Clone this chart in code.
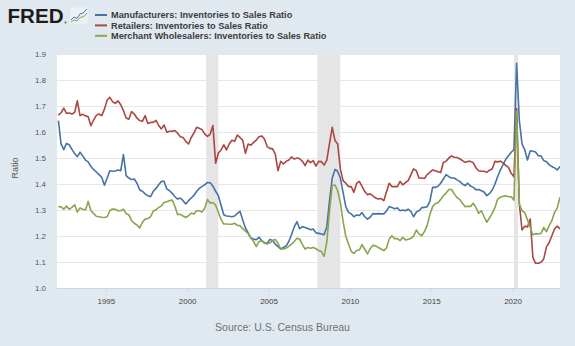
<!DOCTYPE html>
<html>
<head>
<meta charset="utf-8">
<script src="https://cdn.jsdelivr.net/npm/d3@7"></script>
<style>
  body { margin: 0; background: #e1e9f0; }
  svg { display: block; font-family: "Liberation Sans", Arial, sans-serif; }
</style>
</head>
<body>
<div id="chart"></div>
<script>
// bi-monthly readings, Feb 1992 .. Dec 2022
var firstMonth = new Date(1992, 1, 1)
var stepMonths = 2

var seriesNames = [
  'Manufacturers: Inventories to Sales Ratio',
  'Retailers: Inventories to Sales Ratio',
  'Merchant Wholesalers: Inventories to Sales Ratio'
]
var seriesColors = ['#4572a7', '#aa4643', '#89a54e']

var manufacturers = [
  1.644, 1.554, 1.532, 1.556, 1.551, 1.533, 1.517, 1.505, 1.522, 1.508, 1.492, 1.485,
  1.467, 1.456, 1.446, 1.436, 1.426, 1.395, 1.423, 1.451, 1.449, 1.45, 1.454, 1.451,
  1.513, 1.432, 1.423, 1.417, 1.419, 1.403, 1.377, 1.372, 1.362, 1.355, 1.351, 1.372,
  1.383, 1.397, 1.41, 1.41, 1.381, 1.374, 1.364, 1.351, 1.342, 1.346, 1.336, 1.323,
  1.336, 1.346, 1.356, 1.372, 1.383, 1.391, 1.397, 1.406, 1.405, 1.392, 1.372, 1.355,
  1.317, 1.282, 1.277, 1.276, 1.274, 1.277, 1.287, 1.295, 1.262, 1.231, 1.212, 1.192,
  1.188, 1.186, 1.195, 1.182, 1.174, 1.172, 1.187, 1.183, 1.169, 1.159, 1.15, 1.156,
  1.162, 1.179, 1.206, 1.235, 1.255, 1.228, 1.236, 1.233, 1.229, 1.224, 1.227, 1.212,
  1.21, 1.208, 1.205, 1.236, 1.336, 1.423, 1.456, 1.449, 1.423, 1.368, 1.313, 1.291,
  1.285, 1.274, 1.281, 1.279, 1.29, 1.274, 1.265, 1.272, 1.286, 1.285, 1.286, 1.285,
  1.285, 1.296, 1.313, 1.31, 1.305, 1.308, 1.297, 1.3, 1.297, 1.303, 1.295, 1.274,
  1.292, 1.297, 1.309, 1.31, 1.313, 1.333, 1.387, 1.387, 1.391, 1.403, 1.419, 1.436,
  1.428, 1.423, 1.423, 1.416, 1.41, 1.4, 1.394, 1.403, 1.392, 1.387, 1.378, 1.379,
  1.374, 1.369, 1.355, 1.363, 1.377, 1.399, 1.429, 1.453, 1.474, 1.495, 1.509, 1.522,
  1.532, 1.864, 1.644, 1.554, 1.531, 1.492, 1.528, 1.526, 1.523, 1.509, 1.508, 1.49,
  1.486, 1.474, 1.467, 1.462, 1.454, 1.467
]

var retailers = [
  1.665, 1.674, 1.692, 1.672, 1.673, 1.669, 1.676, 1.72, 1.663, 1.668, 1.662, 1.659,
  1.624, 1.646, 1.664, 1.669, 1.663, 1.688, 1.723, 1.733, 1.717, 1.71, 1.72, 1.705,
  1.682, 1.654, 1.649, 1.679, 1.669, 1.653, 1.644, 1.641, 1.663, 1.633, 1.637, 1.637,
  1.645, 1.625, 1.612, 1.627, 1.599, 1.603, 1.603, 1.606, 1.595, 1.582, 1.579, 1.564,
  1.554, 1.579, 1.596, 1.618, 1.614, 1.609, 1.592, 1.583, 1.592, 1.625, 1.48, 1.519,
  1.531, 1.551, 1.531, 1.554, 1.568, 1.564, 1.588, 1.579, 1.569, 1.518, 1.554, 1.549,
  1.56, 1.569, 1.582, 1.585, 1.573, 1.544, 1.537, 1.535, 1.515, 1.451, 1.487, 1.477,
  1.487, 1.492, 1.504, 1.496, 1.5, 1.497, 1.487, 1.471, 1.492, 1.482, 1.49, 1.469,
  1.487, 1.486, 1.473, 1.492, 1.556, 1.618, 1.567, 1.554, 1.458, 1.413, 1.403, 1.39,
  1.39, 1.368, 1.402, 1.41, 1.391, 1.371, 1.359, 1.362, 1.354, 1.346, 1.342, 1.344,
  1.336, 1.369, 1.403, 1.39, 1.39, 1.39, 1.41, 1.397, 1.405, 1.413, 1.435, 1.458,
  1.451, 1.423, 1.423, 1.421, 1.436, 1.445, 1.454, 1.451, 1.447, 1.444, 1.483, 1.488,
  1.5, 1.508, 1.503, 1.502, 1.497, 1.49, 1.483, 1.487, 1.487, 1.482, 1.462, 1.451,
  1.449, 1.449, 1.445, 1.453, 1.458, 1.487, 1.485, 1.488, 1.481, 1.472, 1.464, 1.441,
  1.428, 1.69, 1.323, 1.223, 1.238, 1.235, 1.265, 1.118, 1.095, 1.095, 1.099, 1.112,
  1.159, 1.174, 1.201, 1.227, 1.238, 1.227
]

var wholesalers = [
  1.313, 1.312, 1.303, 1.315, 1.303, 1.31, 1.32, 1.292, 1.308, 1.303, 1.3, 1.333,
  1.297, 1.287, 1.276, 1.274, 1.272, 1.271, 1.274, 1.297, 1.304, 1.303, 1.297, 1.297,
  1.303, 1.286, 1.282, 1.259, 1.249, 1.242, 1.231, 1.253, 1.265, 1.267, 1.274, 1.296,
  1.301, 1.31, 1.315, 1.329, 1.332, 1.336, 1.338, 1.314, 1.283, 1.283, 1.277, 1.271,
  1.278, 1.288, 1.285, 1.297, 1.297, 1.292, 1.308, 1.34, 1.326, 1.329, 1.319, 1.291,
  1.264, 1.246, 1.246, 1.245, 1.245, 1.249, 1.241, 1.24, 1.228, 1.219, 1.209, 1.192,
  1.179, 1.159, 1.179, 1.182, 1.172, 1.169, 1.174, 1.182, 1.187, 1.172, 1.15, 1.15,
  1.154, 1.16, 1.169, 1.179, 1.191, 1.188, 1.167, 1.15, 1.156, 1.153, 1.156, 1.151,
  1.144, 1.14, 1.122, 1.176, 1.297, 1.394, 1.396, 1.374, 1.329, 1.256, 1.199, 1.169,
  1.141, 1.133, 1.144, 1.146, 1.167, 1.149, 1.131, 1.151, 1.164, 1.162, 1.156, 1.15,
  1.144, 1.154, 1.188, 1.201, 1.19, 1.19, 1.182, 1.195, 1.185, 1.187, 1.191, 1.199,
  1.223, 1.208, 1.201, 1.217, 1.24, 1.282, 1.313, 1.324, 1.328, 1.34, 1.355, 1.365,
  1.379, 1.379, 1.362, 1.348, 1.341, 1.326, 1.313, 1.314, 1.314, 1.326, 1.31, 1.287,
  1.297, 1.274, 1.253, 1.269, 1.287, 1.309, 1.342, 1.349, 1.353, 1.355, 1.351, 1.351,
  1.338, 1.68, 1.323, 1.297, 1.29, 1.262, 1.233, 1.205, 1.209, 1.208, 1.21, 1.233,
  1.217, 1.24, 1.259, 1.291, 1.308, 1.349
]

var yTicks = [1.0, 1.1, 1.2, 1.3, 1.4, 1.5, 1.6, 1.7, 1.8, 1.9]
var xTickYears = [1995, 2000, 2005, 2010, 2015, 2020]
var recessionStart = ['2001-03-01', '2008-01-01', '2020-02-01']
var recessionEnd = ['2001-11-30', '2009-06-01', '2020-04-30']

var W = 575, H = 346
var plot = { left: 57, right: 560, top: 54, bottom: 288 }

var svg = d3
  .select('#chart')
  .append('svg')
  .attr('width', W)
  .attr('height', H)

svg
  .append('rect')
  .attr('width', W)
  .attr('height', H)
  .attr('fill', '#e1e9f0')

var x = d3
  .scaleTime()
  .domain([new Date(1992, 0, 1), new Date(2022, 11, 1)])
  .range([plot.left, plot.right])
var y = d3
  .scaleLinear()
  .domain([1.0, 1.9])
  .range([plot.bottom, plot.top])

// plot background
svg
  .append('rect')
  .attr('x', plot.left)
  .attr('y', plot.top)
  .attr('width', plot.right - plot.left)
  .attr('height', plot.bottom - plot.top)
  .attr('fill', '#fff')

// recession shading
var parse = d3.timeParse('%Y-%m-%d')
svg
  .append('g')
  .selectAll('rect')
  .data(recessionStart.map(function (s, i) { return [parse(s), parse(recessionEnd[i])] }))
  .join('rect')
  .attr('x', function (d) { return x(d[0]) })
  .attr('width', function (d) { return x(d[1]) - x(d[0]) })
  .attr('y', plot.top)
  .attr('height', plot.bottom - plot.top)
  .attr('fill', '#e5e5e5')

// horizontal grid
var yAxis = d3
  .axisLeft(y)
  .tickValues(yTicks)
  .tickSize(-(plot.right - plot.left))
  .tickPadding(11)
  .tickFormat(d3.format('.1f'))
var gy = svg
  .append('g')
  .attr('transform', 'translate(' + plot.left + ',0)')
  .call(yAxis)
gy.select('.domain').remove()
gy.selectAll('line')
  .attr('stroke', '#e6e6e6')
  .attr('stroke-width', 1)
gy.selectAll('text')
  .attr('fill', '#555')
  .attr('font-size', 8)
  .attr('font-family', null)
gy.selectAll('.tick')
  .filter(function (d) { return d === 1.0 })
  .select('line')
  .remove()

// x axis
var xAxis = d3
  .axisBottom(x)
  .tickValues(xTickYears.map(function (yr) { return new Date(yr, 0, 1) }))
  .tickSize(4)
  .tickPadding(6)
  .tickFormat(d3.timeFormat('%Y'))
var gx = svg
  .append('g')
  .attr('transform', 'translate(0,' + plot.bottom + ')')
  .call(xAxis)
gx.select('.domain')
  .attr('stroke', '#ccd6eb')
  .attr('d', 'M' + plot.left + ',0.5H' + plot.right)
gx.selectAll('line').attr('stroke', '#ccd6eb')
gx.selectAll('text')
  .attr('fill', '#444')
  .attr('font-size', 8)
  .attr('font-family', null)

// series lines
var clip = svg
  .append('clipPath')
  .attr('id', 'clip')
  .append('rect')
  .attr('x', plot.left)
  .attr('y', plot.top - 10)
  .attr('width', plot.right - plot.left)
  .attr('height', plot.bottom - plot.top + 10)

function toPoints (values) {
  return values.map(function (v, i) {
    return { date: d3.timeMonth.offset(firstMonth, i * stepMonths), value: v }
  })
}

var line = d3
  .line()
  .x(function (d) { return x(d.date) })
  .y(function (d) { return y(d.value) })

var allSeries = [manufacturers, retailers, wholesalers]
svg
  .append('g')
  .attr('clip-path', 'url(#clip)')
  .selectAll('path')
  .data(allSeries)
  .join('path')
  .attr('d', function (d) { return line(toPoints(d)) })
  .attr('fill', 'none')
  .attr('stroke', function (d, i) { return seriesColors[i] })
  .attr('stroke-width', 1.6)
  .attr('stroke-linejoin', 'round')

// y axis title
svg
  .append('text')
  .attr('transform', 'translate(18,168) rotate(-90)')
  .attr('text-anchor', 'middle')
  .attr('font-size', 9)
  .attr('fill', '#555')
  .text('Ratio')

// source note
svg
  .append('text')
  .attr('x', 282.5)
  .attr('y', 330.5)
  .attr('text-anchor', 'middle')
  .attr('font-size', 10.5)
  .attr('fill', '#707070')
  .text('Source: U.S. Census Bureau')

// legend
var legend = svg
  .append('g')
  .selectAll('g')
  .data(seriesNames)
  .join('g')
  .attr('transform', function (d, i) { return 'translate(95,' + (15 + i * 10.4) + ')' })
legend
  .append('line')
  .attr('x1', 0)
  .attr('x2', 12)
  .attr('stroke', function (d, i) { return seriesColors[i] })
  .attr('stroke-width', 2)
legend
  .append('text')
  .attr('x', 16)
  .attr('dy', '0.35em')
  .attr('font-size', 9.2)
  .attr('font-weight', 'bold')
  .attr('fill', '#3d3d3d')
  .text(function (d) { return d })

// FRED logo
var logo = svg.append('g')
logo
  .append('text')
  .attr('x', 7.5)
  .attr('y', 23.3)
  .attr('font-size', 20)
  .attr('font-weight', 'bold')
  .attr('fill', '#1c1c1c')
  .attr('textLength', 56)
  .attr('lengthAdjust', 'spacingAndGlyphs')
  .text('FRED')
logo
  .append('circle')
  .attr('cx', 65.5)
  .attr('cy', 22.5)
  .attr('r', 0.9)
  .attr('fill', '#555')
logo
  .append('rect')
  .attr('x', 70.5)
  .attr('y', 7.5)
  .attr('width', 17)
  .attr('height', 16)
  .attr('fill', '#eef1f4')
logo
  .append('polyline')
  .attr('points', '71,20 74,17 77,18.5 80,14 83,13 87,9')
  .attr('fill', 'none')
  .attr('stroke', '#4572a7')
  .attr('stroke-width', 1)
logo
  .append('polyline')
  .attr('points', '71,22 74,20 77,21 80,17.5 84,16.5 87,13')
  .attr('fill', 'none')
  .attr('stroke', '#89a54e')
  .attr('stroke-width', 1)
</script>
</body>
</html>
